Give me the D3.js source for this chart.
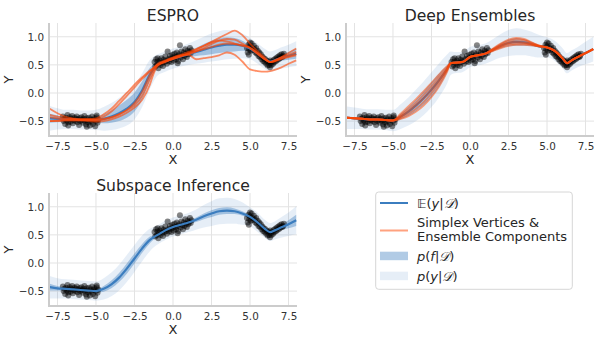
<!DOCTYPE html>
<html><head><meta charset="utf-8">
<script src="https://cdn.jsdelivr.net/npm/d3@7"></script>
<style>
body{margin:0;background:#fff}
svg{display:block}
text{font-family:"DejaVu Sans",sans-serif}
</style>
</head><body>
<svg id="c" width="598" height="345"></svg>
<script>
// ---------- data ----------
const xs = [-8,-7.5,-7,-6.5,-6,-5.5,-5,-4.5,-4,-3.5,-3,-2.5,-2,-1.5,-1.25,-1,-0.5,0,0.5,1,1.5,2,2.5,3,3.5,4,4.5,5,5.5,6,6.3,6.6,7,7.5,8];

// ESPRO
const espMean  = [-0.45,-0.46,-0.47,-0.47,-0.48,-0.48,-0.48,-0.46,-0.42,-0.36,-0.28,-0.16,0.05,0.33,0.43,0.5,0.56,0.61,0.65,0.69,0.73,0.77,0.81,0.84,0.86,0.86,0.84,0.79,0.7,0.6,0.56,0.58,0.62,0.66,0.7];
const espInner = [0.08,0.06,0.04,0.04,0.04,0.04,0.05,0.08,0.11,0.14,0.16,0.17,0.16,0.12,0.08,0.05,0.04,0.04,0.04,0.05,0.07,0.1,0.12,0.13,0.13,0.12,0.09,0.05,0.05,0.04,0.04,0.04,0.05,0.07,0.09];
const espOuter = [0.22,0.19,0.17,0.17,0.17,0.17,0.18,0.21,0.24,0.27,0.3,0.31,0.3,0.26,0.22,0.19,0.18,0.18,0.18,0.19,0.21,0.23,0.25,0.26,0.26,0.25,0.22,0.19,0.18,0.18,0.18,0.18,0.19,0.2,0.22];
const espA = [-0.28,-0.36,-0.42,-0.45,-0.46,-0.46,-0.45,-0.38,-0.28,-0.14,0.0,0.15,0.28,0.4,0.45,0.5,0.56,0.6,0.65,0.71,0.77,0.84,0.91,0.98,1.05,1.11,1.03,0.88,0.74,0.62,0.55,0.57,0.63,0.71,0.79];
const espB = [-0.5,-0.49,-0.48,-0.48,-0.48,-0.48,-0.49,-0.47,-0.44,-0.38,-0.3,-0.18,0.02,0.32,0.44,0.52,0.58,0.63,0.67,0.68,0.6,0.62,0.64,0.67,0.72,0.68,0.56,0.42,0.39,0.38,0.39,0.41,0.45,0.52,0.58];
const espC = [-0.39,-0.42,-0.45,-0.46,-0.47,-0.47,-0.47,-0.42,-0.33,-0.2,-0.05,0.1,0.25,0.38,0.45,0.5,0.57,0.63,0.68,0.73,0.78,0.84,0.9,0.93,0.92,0.88,0.84,0.8,0.7,0.59,0.55,0.58,0.63,0.68,0.73];
const espD = [-0.43,-0.45,-0.47,-0.47,-0.48,-0.48,-0.48,-0.46,-0.43,-0.38,-0.31,-0.22,-0.05,0.25,0.4,0.5,0.56,0.61,0.66,0.7,0.74,0.78,0.82,0.86,0.88,0.87,0.85,0.81,0.71,0.6,0.55,0.57,0.61,0.65,0.69];
const espE = [-0.5,-0.5,-0.49,-0.49,-0.49,-0.5,-0.51,-0.5,-0.47,-0.42,-0.35,-0.26,-0.12,0.15,0.35,0.48,0.55,0.61,0.65,0.69,0.74,0.8,0.87,0.93,0.96,0.95,0.88,0.8,0.69,0.59,0.55,0.56,0.6,0.64,0.67];

// Deep Ensembles
const deMean  = [-0.44,-0.45,-0.46,-0.47,-0.47,-0.48,-0.49,-0.42,-0.33,-0.22,-0.09,0.06,0.23,0.42,0.53,0.54,0.55,0.64,0.67,0.7,0.77,0.84,0.89,0.91,0.9,0.87,0.83,0.81,0.75,0.62,0.53,0.58,0.64,0.71,0.78];
const deInner = [0.02,0.02,0.02,0.02,0.02,0.02,0.02,0.05,0.08,0.1,0.12,0.13,0.12,0.07,0.03,0.02,0.02,0.02,0.02,0.02,0.03,0.05,0.06,0.07,0.06,0.04,0.02,0.02,0.02,0.02,0.02,0.02,0.02,0.02,0.02];
const deOuter = [0.2,0.19,0.18,0.18,0.18,0.18,0.19,0.22,0.25,0.28,0.3,0.31,0.3,0.26,0.21,0.19,0.18,0.18,0.18,0.18,0.19,0.21,0.23,0.24,0.23,0.22,0.2,0.18,0.18,0.18,0.18,0.18,0.18,0.2,0.22];
const de1 = [-0.44,-0.45,-0.46,-0.47,-0.47,-0.48,-0.49,-0.37,-0.24,-0.11,0.03,0.18,0.33,0.47,0.53,0.54,0.55,0.64,0.67,0.7,0.79,0.88,0.95,0.98,0.96,0.9,0.84,0.81,0.75,0.62,0.53,0.58,0.64,0.71,0.78];
const de2 = [-0.44,-0.45,-0.46,-0.47,-0.47,-0.48,-0.49,-0.4,-0.29,-0.17,-0.03,0.12,0.28,0.44,0.53,0.54,0.55,0.64,0.67,0.7,0.78,0.86,0.92,0.95,0.94,0.89,0.84,0.81,0.75,0.62,0.53,0.58,0.64,0.71,0.78];
const de3 = [-0.44,-0.45,-0.46,-0.47,-0.47,-0.48,-0.49,-0.42,-0.33,-0.22,-0.09,0.06,0.23,0.42,0.53,0.54,0.55,0.64,0.67,0.7,0.77,0.84,0.89,0.91,0.9,0.87,0.83,0.81,0.75,0.62,0.53,0.58,0.64,0.71,0.78];
const de4 = [-0.44,-0.45,-0.46,-0.47,-0.47,-0.48,-0.49,-0.44,-0.37,-0.28,-0.16,0.0,0.18,0.4,0.53,0.54,0.55,0.64,0.67,0.7,0.76,0.82,0.87,0.88,0.88,0.86,0.83,0.81,0.75,0.62,0.53,0.58,0.64,0.71,0.78];
const de5 = [-0.44,-0.45,-0.46,-0.47,-0.47,-0.48,-0.49,-0.46,-0.41,-0.33,-0.22,-0.07,0.12,0.37,0.53,0.54,0.55,0.64,0.67,0.7,0.75,0.8,0.84,0.86,0.86,0.85,0.83,0.81,0.75,0.62,0.53,0.58,0.64,0.71,0.78];

// Subspace Inference
const siMean  = [-0.43,-0.45,-0.46,-0.47,-0.48,-0.49,-0.5,-0.46,-0.38,-0.26,-0.1,0.08,0.26,0.41,0.46,0.5,0.58,0.64,0.68,0.72,0.77,0.83,0.88,0.92,0.93,0.92,0.88,0.82,0.72,0.6,0.55,0.58,0.63,0.69,0.76];
const siInner = [0.06,0.04,0.03,0.03,0.03,0.03,0.03,0.05,0.07,0.08,0.09,0.09,0.08,0.06,0.04,0.03,0.03,0.03,0.03,0.03,0.04,0.05,0.06,0.06,0.06,0.05,0.04,0.03,0.03,0.03,0.03,0.03,0.04,0.07,0.1];
const siOuter = [0.2,0.18,0.17,0.17,0.17,0.17,0.17,0.19,0.21,0.23,0.24,0.24,0.23,0.2,0.18,0.17,0.17,0.17,0.17,0.17,0.18,0.2,0.22,0.23,0.23,0.22,0.2,0.17,0.17,0.16,0.16,0.16,0.18,0.21,0.25];

// observed points (x, y)
const pts = [
[-7.15,-0.42],[-7.1,-0.5],[-7.05,-0.46],[-7.0,-0.55],[-6.95,-0.44],[-6.9,-0.49],[-6.85,-0.39],[-6.8,-0.52],[-6.75,-0.47],[-6.7,-0.43],[-6.65,-0.51],[-6.6,-0.46],[-6.55,-0.41],[-6.5,-0.54],[-6.45,-0.48],[-6.4,-0.44],[-6.35,-0.5],[-6.3,-0.46],[-6.25,-0.42],[-6.2,-0.52],[-6.15,-0.47],[-6.1,-0.57],[-6.05,-0.45],[-6.0,-0.5],[-5.95,-0.43],[-5.9,-0.48],[-5.85,-0.53],[-5.8,-0.46],[-5.75,-0.41],[-5.7,-0.5],[-5.65,-0.56],[-5.6,-0.45],[-5.55,-0.49],[-5.5,-0.52],[-5.45,-0.44],[-5.4,-0.58],[-5.35,-0.47],[-5.3,-0.51],[-5.25,-0.42],[-5.2,-0.55],[-5.15,-0.48],[-5.1,-0.45],[-5.05,-0.59],[-5.0,-0.5],[-4.95,-0.43],[-4.9,-0.53],[-4.85,-0.47],[-5.6,-0.6],[-6.8,-0.58],[-4.95,-0.4],
[-1.2,0.55],[-1.15,0.47],[-1.1,0.6],[-1.05,0.5],[-1.0,0.56],[-0.95,0.44],[-0.9,0.53],[-0.85,0.58],[-0.8,0.5],[-0.75,0.62],[-0.7,0.54],[-0.65,0.48],[-0.6,0.59],[-0.55,0.55],[-0.5,0.65],[-0.45,0.57],[-0.4,0.52],[-0.35,0.74],[-0.3,0.6],[-0.25,0.56],[-0.2,0.66],[-0.15,0.61],[-0.1,0.55],[-0.05,0.68],[0.0,0.63],[0.05,0.58],[0.1,0.7],[0.15,0.64],[0.2,0.6],[0.25,0.72],[0.3,0.66],[0.35,0.57],[0.4,0.69],[0.45,0.85],[0.5,0.63],[0.55,0.74],[0.6,0.67],[0.65,0.6],[0.7,0.72],[0.75,0.66],[0.8,0.78],[0.85,0.7],[0.9,0.64],[0.95,0.75],[1.0,0.69],[1.05,0.73],[1.1,0.8],[1.15,0.71],[1.2,0.76],[-1.0,0.62],[0.3,0.53],
[4.8,0.8],[4.85,0.72],[4.9,0.86],[4.92,0.68],[4.95,0.78],[5.0,0.83],[5.05,0.75],[5.1,0.88],[5.15,0.8],[5.2,0.76],[5.25,0.84],[5.3,0.78],[5.35,0.72],[5.4,0.8],[5.45,0.7],[5.5,0.75],[5.55,0.66],[5.6,0.72],[5.65,0.64],[5.7,0.69],[5.75,0.6],[5.8,0.65],[5.85,0.57],[5.9,0.62],[5.95,0.55],[6.0,0.6],[6.05,0.52],[6.1,0.57],[6.15,0.49],[6.2,0.55],[6.25,0.5],[6.3,0.46],[6.35,0.54],[6.4,0.5],[6.45,0.56],[6.5,0.52],[6.55,0.59],[6.6,0.55],[6.65,0.61],[6.7,0.57],[6.75,0.63],[6.8,0.59],[6.85,0.65],[6.9,0.61],[6.95,0.67],[7.0,0.63],[7.05,0.69],[7.1,0.64],[7.15,0.66],[7.2,0.7],[5.0,0.9],[6.3,0.58]
];

const xTicks = [-7.5,-5,-2.5,0,2.5,5,7.5];
const yTicks = [-0.5,0,0.5,1.0];

// ---------- drawing ----------
const svg = d3.select("#c");
const W = 248, H = 113;
const BLUE = "#3b7dbf", ORANGE = "#ff4500";

const panels = [
  {title:"ESPRO", left:49, top:23, mean:espMean, inner:espInner, outer:espOuter, members:[espA,espB,espC,espD,espE], mw:1.8, mo:0.6},
  {title:"Deep Ensembles", left:346, top:23, mean:deMean, inner:deInner, outer:deOuter, members:[de1,de2,de3,de4,de5], mw:2.0, mo:0.5},
  {title:"Subspace Inference", left:49, top:193, mean:siMean, inner:siInner, outer:siOuter, members:[], mw:1.8, mo:0.5}
];

panels.forEach(p => {
  const g = svg.append("g").attr("transform", `translate(${p.left},${p.top})`);
  const x = d3.scaleLinear().domain([-8.05, 8.05]).range([0, W]);
  const y = d3.scaleLinear().domain([-0.765, 1.245]).range([H, 0]);

  // grid
  g.selectAll(".gx").data(xTicks).join("line")
    .attr("x1", d => x(d)).attr("x2", d => x(d)).attr("y1", 0).attr("y2", H)
    .attr("stroke", "#e3e3e3").attr("stroke-width", 1);
  g.selectAll(".gy").data(yTicks).join("line")
    .attr("x1", 0).attr("x2", W).attr("y1", d => y(d)).attr("y2", d => y(d))
    .attr("stroke", "#e3e3e3").attr("stroke-width", 1);

  const band = hw => d3.area()
    .x((d, i) => x(xs[i]))
    .y0((d, i) => y(p.mean[i] - hw[i]))
    .y1((d, i) => y(p.mean[i] + hw[i]))
    .curve(d3.curveMonotoneX);

  g.append("path").datum(xs).attr("d", band(p.outer)).attr("fill", BLUE).attr("fill-opacity", 0.13);
  g.append("path").datum(xs).attr("d", band(p.inner)).attr("fill", BLUE).attr("fill-opacity", 0.4);

  // points
  g.selectAll(".pt").data(pts).join("circle")
    .attr("cx", d => x(d[0])).attr("cy", d => y(d[1])).attr("r", 3)
    .attr("fill", "#000").attr("fill-opacity", 0.48);

  const line = d3.line().x((d, i) => x(xs[i])).y(d => y(d)).curve(d3.curveMonotoneX);
  g.append("path").datum(p.mean).attr("d", line).attr("fill", "none")
    .attr("stroke", BLUE).attr("stroke-width", 2.2);
  p.members.forEach(m => {
    g.append("path").datum(m).attr("d", line).attr("fill", "none")
      .attr("stroke", ORANGE).attr("stroke-width", p.mw).attr("stroke-opacity", p.mo);
  });

  // spines
  g.append("line").attr("x1", 0).attr("x2", 0).attr("y1", 0).attr("y2", H)
    .attr("stroke", "#cccccc").attr("stroke-width", 2);
  g.append("line").attr("x1", -1).attr("x2", W).attr("y1", H).attr("y2", H)
    .attr("stroke", "#cccccc").attr("stroke-width", 2);

  // axes
  const fmt = d3.format(".1f");
  const ax = g.append("g").attr("transform", `translate(0,${H})`)
    .call(d3.axisBottom(x).tickValues(xTicks).tickSize(0).tickPadding(7).tickFormat(fmt));
  const ay = g.append("g")
    .call(d3.axisLeft(y).tickValues(yTicks).tickSize(0).tickPadding(5).tickFormat(fmt));
  [ax, ay].forEach(a => {
    a.select(".domain").remove();
    a.selectAll("text").attr("font-family", "DejaVu Sans").attr("font-size", "10.4px").attr("fill", "#333");
  });

  // titles and labels
  g.append("text").attr("x", W / 2).attr("y", -2.3).attr("text-anchor", "middle")
    .attr("font-size", "15.6px").attr("fill", "#262626").text(p.title);
  g.append("text").attr("x", W / 2).attr("y", H + 28).attr("text-anchor", "middle")
    .attr("font-size", "13px").attr("fill", "#262626").text("X");
  g.append("text").attr("transform", `translate(-36,${H / 2}) rotate(-90)`).attr("text-anchor", "middle")
    .attr("font-size", "13px").attr("fill", "#262626").text("Y");
});

// ---------- legend ----------
const lg = svg.append("g");
lg.append("rect").attr("x", 375.7).attr("y", 192).attr("width", 196.6).attr("height", 97.3)
  .attr("rx", 3).attr("fill", "#fff").attr("stroke", "#d6d6d6").attr("stroke-width", 1);
lg.append("line").attr("x1", 380).attr("x2", 408).attr("y1", 203).attr("y2", 203)
  .attr("stroke", BLUE).attr("stroke-width", 2);
lg.append("line").attr("x1", 380).attr("x2", 408).attr("y1", 230.5).attr("y2", 230.5)
  .attr("stroke", ORANGE).attr("stroke-opacity", 0.5).attr("stroke-width", 2);
lg.append("rect").attr("x", 380).attr("y", 251.7).attr("width", 28).attr("height", 8.5)
  .attr("fill", BLUE).attr("fill-opacity", 0.4);
lg.append("rect").attr("x", 380).attr("y", 271.7).attr("width", 28).attr("height", 8.5)
  .attr("fill", BLUE).attr("fill-opacity", 0.13);

const lt = (yy) => lg.append("text").attr("x", 417).attr("y", yy).attr("font-size", "13px").attr("fill", "#262626");
let t = lt(207.5);
t.append("tspan").text("𝔼");
t.append("tspan").text("(");
t.append("tspan").attr("font-style", "italic").text("y");
t.append("tspan").text("|");
t.append("tspan").attr("font-style", "italic").text("𝒟");
t.append("tspan").text(")");
lt(226.5).text("Simplex Vertices &");
lt(241).text("Ensemble Components");
t = lt(260.5);
t.append("tspan").attr("font-style", "italic").text("p");
t.append("tspan").text("(");
t.append("tspan").attr("font-style", "italic").text("f");
t.append("tspan").text("|");
t.append("tspan").attr("font-style", "italic").text("𝒟");
t.append("tspan").text(")");
t = lt(280.5);
t.append("tspan").attr("font-style", "italic").text("p");
t.append("tspan").text("(");
t.append("tspan").attr("font-style", "italic").text("y");
t.append("tspan").text("|");
t.append("tspan").attr("font-style", "italic").text("𝒟");
t.append("tspan").text(")");
</script>
</body></html>
